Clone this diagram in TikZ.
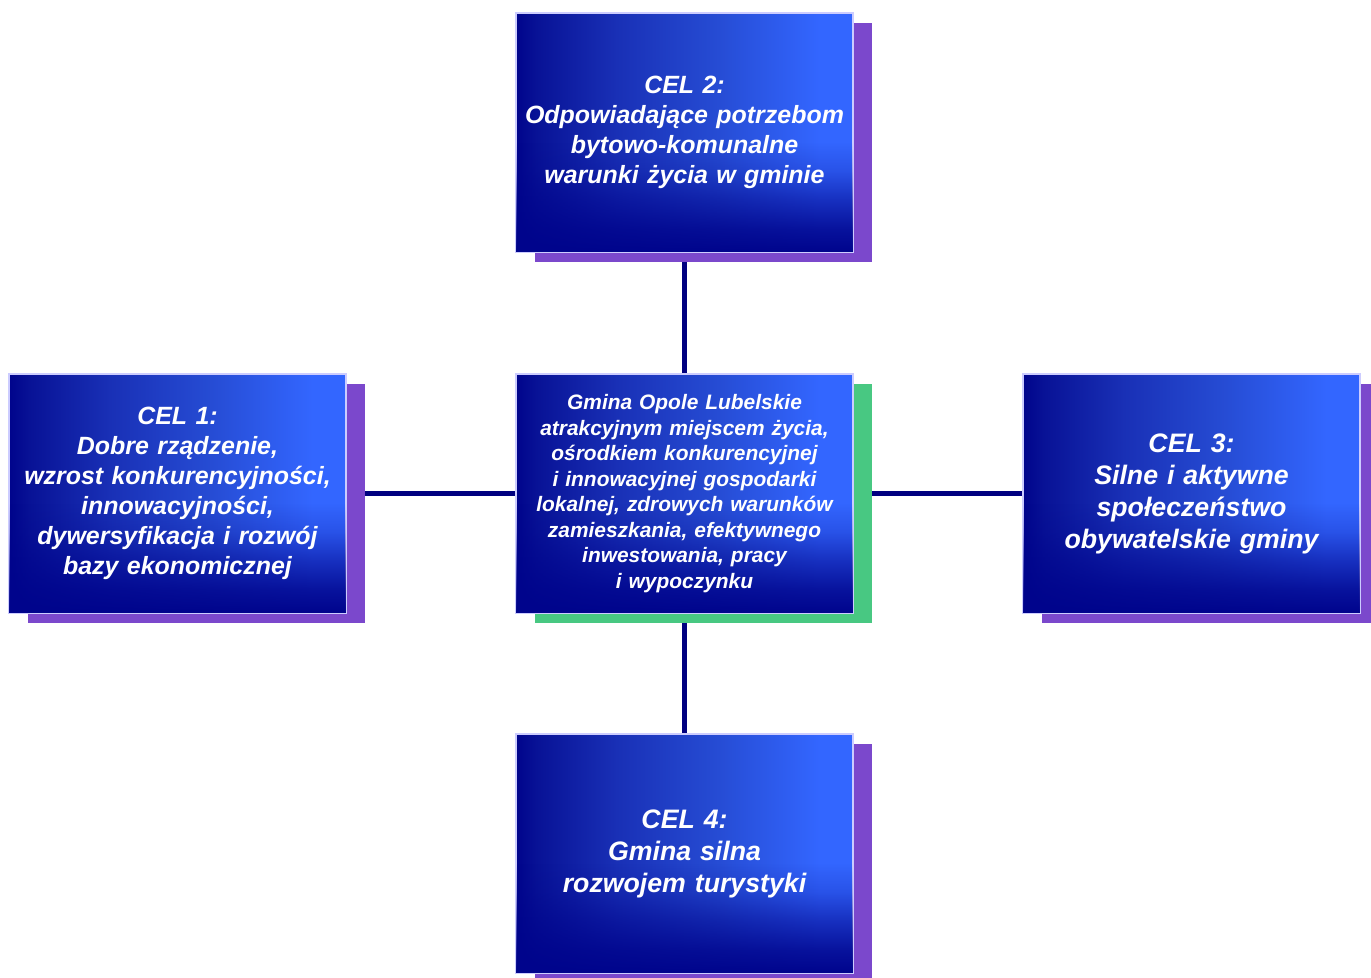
\documentclass[tikz,border=0pt]{standalone}
\usepackage{fontspec}
\setmainfont{Liberation Sans}
\usetikzlibrary{shadows, fadings, backgrounds}

\definecolor{celdark}{RGB}{0,4,140}
\definecolor{celmidA}{RGB}{8,18,150}
\definecolor{celmidB}{RGB}{25,48,182}
\definecolor{celmidC}{RGB}{38,76,212}
\definecolor{cellight}{RGB}{51,102,255}
\definecolor{celviolet}{RGB}{123,72,204}
\definecolor{celgreen}{RGB}{72,200,130}
\definecolor{linknavy}{RGB}{0,0,128}

% box fill: dark at the left edge, light towards the right
\pgfdeclarehorizontalshading{celshade}{100bp}{color(0bp)=(celdark); color(25bp)=(celdark); color(28bp)=(celmidA); color(40bp)=(celmidB); color(55bp)=(celmidC); color(70bp)=(cellight); color(100bp)=(cellight)}
% darker strip along the bottom
\pgfdeclareverticalshading{botshade}{100bp}{color(0bp)=(white); color(25bp)=(white); color(30bp)=(white!85!black); color(36bp)=(white!55!black); color(42bp)=(white!20!black); color(48bp)=(black); color(100bp)=(black)}
\pgfdeclarefading{botdark}{\pgfuseshading{botshade}}

\begin{document}
\begin{tikzpicture}[
        goal/.style={rectangle, minimum width=6.74cm, minimum height=4.78cm, inner sep=0pt,
            shade, shading=celshade, draw=blue!20!white, line width=0.6pt,
            postaction={fill=celdark, path fading=botdark},
            text=white, font=\bfseries\itshape\fontsize{14.2}{17}\selectfont, align=center, text width=6.5cm,
            drop shadow={shadow xshift=0.38cm, shadow yshift=-0.2cm, fill=celviolet, opacity=1}},
        mission/.style={goal, font=\bfseries\itshape\fontsize{11.9}{14.5}\selectfont,
            drop shadow={shadow xshift=0.38cm, shadow yshift=-0.2cm, fill=celgreen, opacity=1}},
        link/.style={draw=linknavy, line width=2.3pt}
    ]
        \useasboundingbox (0,0) rectangle (27.42,-19.54);

        \node[mission] (gmina) at (13.69,-9.87) {Gmina Opole Lubelskie\\atrakcyjnym miejscem życia,\\ośrodkiem konkurencyjnej\\i innowacyjnej gospodarki\\lokalnej, zdrowych warunków\\zamieszkania, efektywnego\\inwestowania, pracy\\i wypoczynku};

        \node[goal] (cel1) at (3.55,-9.87) {CEL 1:\\Dobre rządzenie,\\wzrost konkurencyjności,\\innowacyjności,\\dywersyfikacja i rozwój\\bazy ekonomicznej};
        \node[goal] (cel2) at (13.69,-2.65) {CEL 2:\\Odpowiadające potrzebom\\bytowo-komunalne\\warunki życia w gminie};
        \node[goal, font=\bfseries\itshape\fontsize{15.2}{18.2}\selectfont] (cel3) at (23.83,-9.87) {CEL 3:\\Silne i aktywne\\społeczeństwo\\obywatelskie gminy};
        \node[goal, font=\bfseries\itshape\fontsize{15.2}{18.2}\selectfont] (cel4) at (13.69,-17.07) {CEL 4:\\Gmina silna\\rozwojem turystyki};

        \begin{scope}[on background layer]
            \draw[link] (cel2) -- (gmina);
            \draw[link] (gmina) -- (cel4);
            \draw[link] (cel1) -- (gmina);
            \draw[link] (gmina) -- (cel3);
        \end{scope}

    \end{tikzpicture}
\end{document}
